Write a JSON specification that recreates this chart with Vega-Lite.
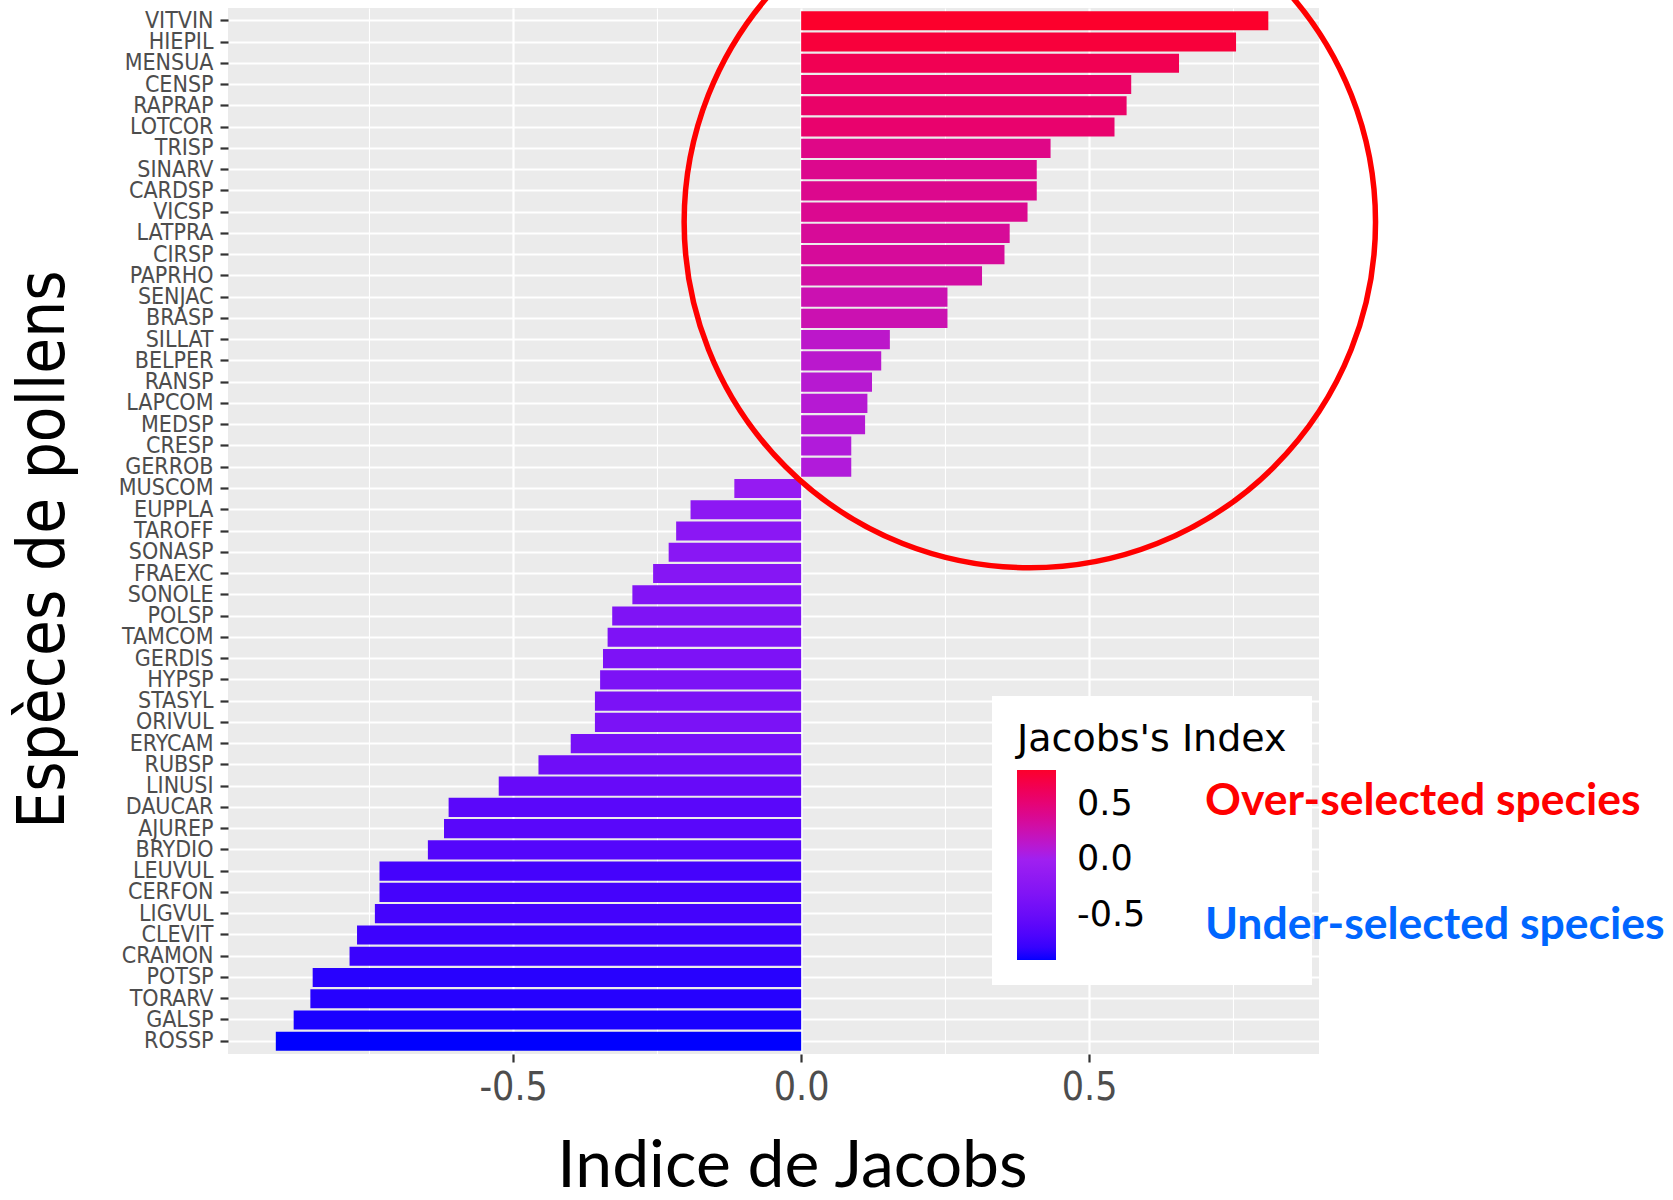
{
  "$schema": "https://vega.github.io/schema/vega-lite/v6.json",
  "width": 1091,
  "height": 1046,
  "autosize": {"type": "none"},
  "padding": {"left": 228, "top": 8, "right": 354, "bottom": 146},
  "background": "white",
  "config": {"view": {"fill": "#EBEBEB", "stroke": null}},
  "title": {
    "text": "Over-selected species",
    "subtitle": "Under-selected species",
    "orient": "top",
    "anchor": "start",
    "frame": "group",
    "offset": 10,
    "dx": 977,
    "dy": 1093,
    "font": "Lato",
    "fontSize": 44.5,
    "fontWeight": "bold",
    "color": "#FF0000",
    "subtitleFont": "Lato",
    "subtitleFontSize": 44.5,
    "subtitleFontWeight": "bold",
    "subtitleColor": "#0066FF",
    "subtitlePadding": 79
  },
  "datasets": {
    "jacobs": [
      {"species": "VITVIN", "value": 0.811},
      {"species": "HIEPIL", "value": 0.755},
      {"species": "MENSUA", "value": 0.656},
      {"species": "CENSP", "value": 0.573},
      {"species": "RAPRAP", "value": 0.565},
      {"species": "LOTCOR", "value": 0.544},
      {"species": "TRISP", "value": 0.433},
      {"species": "SINARV", "value": 0.409},
      {"species": "CARDSP", "value": 0.409},
      {"species": "VICSP", "value": 0.393},
      {"species": "LATPRA", "value": 0.362},
      {"species": "CIRSP", "value": 0.353},
      {"species": "PAPRHO", "value": 0.314},
      {"species": "SENJAC", "value": 0.254},
      {"species": "BRASP", "value": 0.254},
      {"species": "SILLAT", "value": 0.154},
      {"species": "BELPER", "value": 0.139},
      {"species": "RANSP", "value": 0.123},
      {"species": "LAPCOM", "value": 0.115},
      {"species": "MEDSP", "value": 0.111},
      {"species": "CRESP", "value": 0.087},
      {"species": "GERROB", "value": 0.087},
      {"species": "MUSCOM", "value": -0.116},
      {"species": "EUPPLA", "value": -0.192},
      {"species": "TAROFF", "value": -0.217},
      {"species": "SONASP", "value": -0.230},
      {"species": "FRAEXC", "value": -0.257},
      {"species": "SONOLE", "value": -0.293},
      {"species": "POLSP", "value": -0.328},
      {"species": "TAMCOM", "value": -0.336},
      {"species": "GERDIS", "value": -0.344},
      {"species": "HYPSP", "value": -0.349},
      {"species": "STASYL", "value": -0.358},
      {"species": "ORIVUL", "value": -0.358},
      {"species": "ERYCAM", "value": -0.400},
      {"species": "RUBSP", "value": -0.456},
      {"species": "LINUSI", "value": -0.525},
      {"species": "DAUCAR", "value": -0.612},
      {"species": "AJUREP", "value": -0.620},
      {"species": "BRYDIO", "value": -0.648},
      {"species": "LEUVUL", "value": -0.732},
      {"species": "CERFON", "value": -0.732},
      {"species": "LIGVUL", "value": -0.740},
      {"species": "CLEVIT", "value": -0.771},
      {"species": "CRAMON", "value": -0.784},
      {"species": "POTSP", "value": -0.848},
      {"species": "TORARV", "value": -0.852},
      {"species": "GALSP", "value": -0.881},
      {"species": "ROSSP", "value": -0.912}
    ],
    "circle": [{"species": "VICSP", "value": 0.397}]
  },
  "encoding": {
    "y": {
      "field": "species",
      "type": "nominal",
      "scale": {
        "domain": ["VITVIN","HIEPIL","MENSUA","CENSP","RAPRAP","LOTCOR","TRISP","SINARV","CARDSP","VICSP","LATPRA","CIRSP","PAPRHO","SENJAC","BRASP","SILLAT","BELPER","RANSP","LAPCOM","MEDSP","CRESP","GERROB","MUSCOM","EUPPLA","TAROFF","SONASP","FRAEXC","SONOLE","POLSP","TAMCOM","GERDIS","HYPSP","STASYL","ORIVUL","ERYCAM","RUBSP","LINUSI","DAUCAR","AJUREP","BRYDIO","LEUVUL","CERFON","LIGVUL","CLEVIT","CRAMON","POTSP","TORARV","GALSP","ROSSP"],
        "paddingInner": 0.1,
        "paddingOuter": 0.15
      },
      "axis": {
        "title": "Espèces de pollens",
        "titleFont": "'DejaVu Sans Condensed', 'DejaVu Sans'",
        "titleFontSize": 65,
        "titleFontWeight": "normal",
        "titleColor": "black",
        "titleAngle": -90,
        "titleX": -165,
        "titleY": 541,
        "titleAlign": "center",
        "titleBaseline": "alphabetic",
        "labelFont": "'DejaVu Sans Condensed', 'DejaVu Sans'",
        "labelFontSize": 23,
        "labelColor": "#4D4D4D",
        "labelPadding": 7,
        "labelOverlap": false,
        "tickSize": 8,
        "tickWidth": 2.2,
        "tickColor": "#333333",
        "domain": false,
        "grid": true,
        "gridColor": "white",
        "gridWidth": 2.2,
        "bandPosition": 0.5
      }
    },
    "x": {
      "field": "value",
      "type": "quantitative",
      "scale": {"domain": [-0.995, 0.899], "nice": false, "zero": false},
      "axis": {
        "title": "Indice de Jacobs",
        "titleFont": "Lato",
        "titleFontSize": 66,
        "titleFontWeight": "normal",
        "titleColor": "black",
        "titleX": 564,
        "titleY": 132,
        "titleAlign": "center",
        "titleBaseline": "alphabetic",
        "values": [-0.75, -0.5, -0.25, 0, 0.25, 0.5, 0.75],
        "labelExpr": "abs(datum.value*2 - round(datum.value*2)) < 0.001 ? (datum.value < 0 ? '-' + format(-datum.value, '.1f') : format(datum.value, '.1f')) : ''",
        "labelFont": "'DejaVu Sans Condensed', 'DejaVu Sans'",
        "labelFontSize": 39,
        "labelColor": "#4D4D4D",
        "labelPadding": 6,
        "labelOverlap": false,
        "labelFlush": false,
        "tickSize": 8,
        "tickWidth": 2.2,
        "tickColor": {"condition": {"test": "abs(datum.value*2 - round(datum.value*2)) < 0.001", "value": "#333333"}, "value": "transparent"},
        "domain": false,
        "grid": true,
        "gridColor": "white",
        "gridWidth": {"condition": {"test": "abs(datum.value*2 - round(datum.value*2)) < 0.001", "value": 2.2}, "value": 1.1}
      }
    }
  },
  "layer": [
    {
      "data": {"name": "jacobs"},
      "mark": {"type": "bar"},
      "encoding": {
        "x2": {"datum": 0},
        "color": {
          "field": "value",
          "type": "quantitative",
          "scale": {"domain": [-0.912, 0, 0.811], "range": ["#0000FF", "#A020F0", "#FC002C"], "interpolate": "lab", "nice": false, "zero": false},
          "legend": {
            "title": "Jacobs's Index",
            "orient": "none",
            "legendX": 764,
            "legendY": 688,
            "direction": "vertical",
            "titleFont": "DejaVu Sans",
            "titleFontSize": 38,
            "titleFontWeight": "normal",
            "titleColor": "black",
            "titleLimit": 500,
            "titlePadding": 11,
            "labelFont": "DejaVu Sans",
            "labelFontSize": 35,
            "labelColor": "black",
            "labelOffset": 21,
            "labelLimit": 300,
            "gradientLength": 190,
            "gradientThickness": 39,
            "gradientStrokeWidth": 0,
            "fillColor": "white",
            "padding": 25,
            "values": [-0.5, 0, 0.5],
            "labelExpr": "datum.value < 0 ? '-' + format(-datum.value, '.1f') : format(datum.value, '.1f')"
          }
        }
      }
    },
    {
      "data": {"name": "circle"},
      "mark": {"type": "point", "shape": "circle", "filled": false, "stroke": "#FF0000", "strokeWidth": 5.5, "size": 478000, "opacity": 1, "yOffset": 10}
    }
  ]
}
